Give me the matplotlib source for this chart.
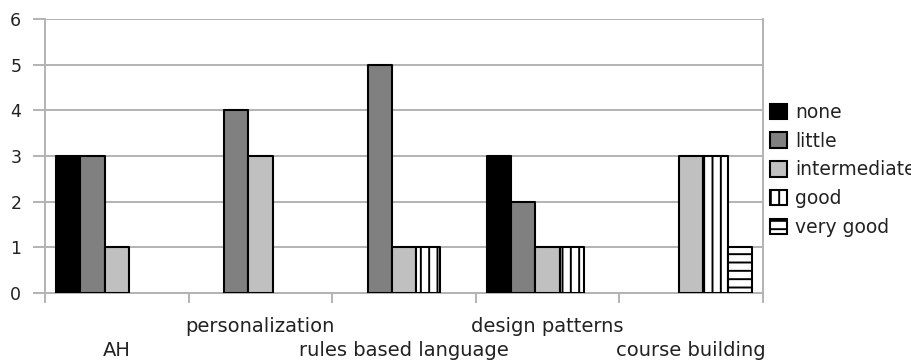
import numpy as np
import matplotlib.pyplot as plt

categories = ['AH', 'personalization', 'rules based language', 'design patterns', 'course building']
series = ['none', 'little', 'intermediate', 'good', 'very good']
none = [3, 0, 0, 3, 0]
little = [3, 4, 5, 2, 0]
intermediate = [1, 3, 1, 1, 3]
good = [0, 0, 1, 1, 3]
very_good = [0, 0, 0, 0, 1]

plt.rcParams['font.family'] = 'DejaVu Sans'
plt.rcParams['hatch.linewidth'] = 1.4
plt.rcParams['hatch.color'] = 'black'

fig = plt.figure(figsize=(9.12, 3.63), dpi=100)
ax = fig.add_axes([0.0493, 0.1928, 0.7873, 0.7549])

values = [none, little, intermediate, good, very_good]
colors = ['black', '#808080', '#c0c0c0', 'white', 'white']
hatches = [None, None, None, '||', '--']
w = 0.169
x = np.arange(len(categories)) + 0.5
for j, (vals, name) in enumerate(zip(values, series)):
    vals = np.array(vals, dtype=float)
    keep = vals > 0  # empty categories draw nothing
    ax.bar((x + (j - 2) * w)[keep], vals[keep], width=w, color=colors[j],
           edgecolor='black', linewidth=1.5, hatch=hatches[j], label=name,
           zorder=3, joinstyle='round')

ax.set_xlim(0, 5)
ax.set_ylim(0, 6)
ax.set_yticks(range(7))
ax.grid(axis='y', color='#b3b3b3', linewidth=1.4, zorder=0)
for s in ax.spines.values():
    s.set_color('#b3b3b3')
    s.set_linewidth(1.4)
ax.spines['top'].set_visible(False)

ax.set_xticks(x)
labels = [c if i % 2 else '\n' + c for i, c in enumerate(categories)]
ax.set_xticklabels(labels, fontsize=14, color='#222222', linespacing=1.35)
ax.set_xticks(np.arange(6), minor=True)
ax.tick_params(axis='x', which='major', length=0, pad=17)
ax.tick_params(axis='x', which='minor', length=7, width=1.4, color='#b3b3b3')
ax.tick_params(axis='y', length=9, width=1.4, color='#b3b3b3', labelsize=12.5,
               labelcolor='#222222', pad=8)

fig.legend(loc='center left', bbox_to_anchor=(0.836, 0.532), frameon=False,
           fontsize=13.5, handlelength=0.9, handleheight=0.9,
           handletextpad=0.45, labelspacing=0.52, borderaxespad=0, labelcolor='#222222')

plt.savefig('out.png', dpi=100)
